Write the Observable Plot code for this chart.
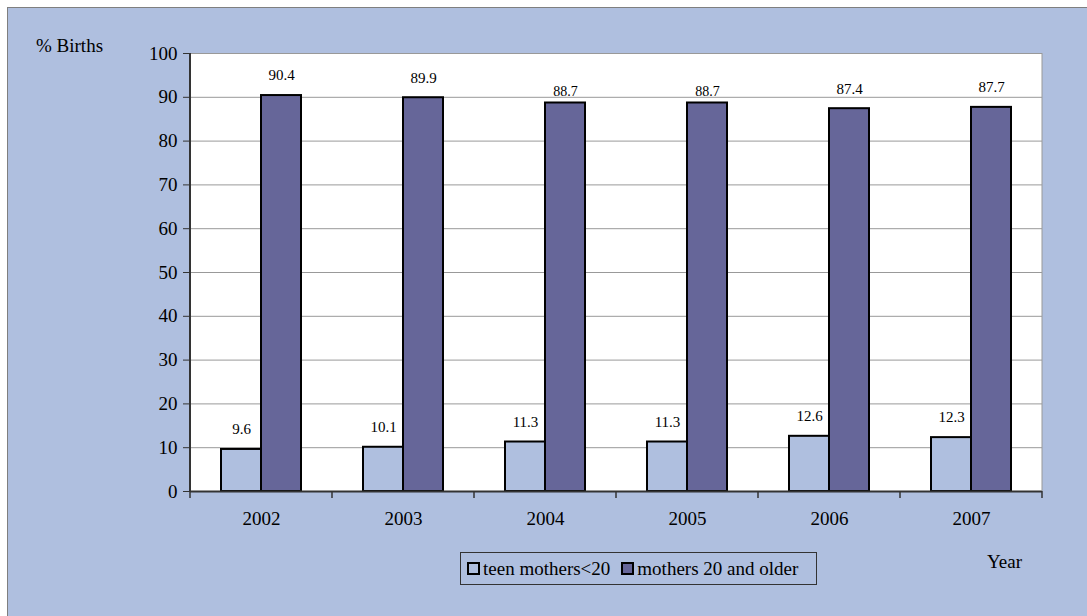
<!DOCTYPE html>
<html>
<head>
<meta charset="utf-8">
<script src="https://cdn.jsdelivr.net/npm/d3@7"></script>
<script src="https://cdn.jsdelivr.net/npm/@observablehq/plot@0.6"></script>
<style>
  html, body { margin: 0; padding: 0; background: #ffffff; }
  #wrap { position: relative; width: 1087px; height: 616px; overflow: hidden; font-family: "Liberation Serif", "Times New Roman", serif; }
  #bg { position: absolute; left: 7px; top: 7px; width: 1100px; height: 640px; background: #AFBFDF; border: 1px solid #7f7f7f; box-sizing: border-box; }
  #chart { position: absolute; left: 0; top: 0; }
  .lbl { position: absolute; font-size: 19px; color: #000; white-space: nowrap; }
  #legend { position: absolute; left: 460px; top: 552px; width: 357px; height: 33px; border: 1px solid #333; box-sizing: border-box; display: flex; align-items: center; font-size: 19px; padding-left: 6px; white-space: nowrap; }
  .sw { display: inline-block; width: 9px; height: 9px; border: 2px solid #000; margin-right: 3px; flex: none; }
  .item { display: flex; align-items: center; margin-right: 11px; white-space: nowrap; }
</style>
</head>
<body>
<div id="wrap">
  <div id="bg"></div>
  <div id="chart"></div>
  <div class="lbl" style="left:36px; top:35px;">% Births</div>
  <div class="lbl" style="left:987px; top:551px;">Year</div>
  <div id="legend"></div>
</div>
<script>
const years = ["2002", "2003", "2004", "2005", "2006", "2007"];
const series = ["teen mothers<20", "mothers 20 and older"];
const teen = [9.6, 10.1, 11.3, 11.3, 12.6, 12.3];
const older = [90.4, 89.9, 88.7, 88.7, 87.4, 87.7];
const yTicks = [0, 10, 20, 30, 40, 50, 60, 70, 80, 90, 100];
const colors = ["#AFBFDF", "#666699"];
// labels that sit closer to their bar in the original
const closeLabelYears = ["2004", "2005"];

const data = years.flatMap((yr, i) => [
  {year: yr, series: series[0], value: teen[i]},
  {year: yr, series: series[1], value: older[i]}
]);
const isClose = d => d.series === series[1] && closeLabelYears.includes(d.year);

const plot = Plot.plot({
  width: 1087,
  height: 616,
  marginLeft: 188,
  marginRight: 44,
  marginTop: 53,
  marginBottom: 125,
  style: {background: "transparent", fontFamily: "'Liberation Serif', 'Times New Roman', serif", color: "#000", overflow: "visible"},
  fx: {domain: years, padding: 0, label: null},
  x: {domain: series, paddingInner: 0, paddingOuter: 0.76, axis: null},
  y: {domain: [0, 100], label: null},
  color: {domain: series, range: colors},
  marks: [
    Plot.gridY(yTicks.filter(d => d > 0), {stroke: "#999", strokeOpacity: 1, strokeWidth: 1}),
    Plot.barY(data, {fx: "year", x: "series", y: "value", fill: "series", stroke: "black", strokeWidth: 2}),
    Plot.text(data.filter(d => !isClose(d)), {fx: "year", x: "series", y: "value", text: d => d.value.toFixed(1), dy: -20, fontSize: 15}),
    Plot.text(data.filter(isClose), {fx: "year", x: "series", y: "value", text: d => d.value.toFixed(1), dy: -11, fontSize: 14}),
    Plot.ruleY([0], {stroke: "#333", strokeWidth: 2}),
    Plot.axisY({ticks: yTicks, tickSize: 7, tickPadding: 6, label: null, fontSize: 19, stroke: "#333"}),
    Plot.axisFx({anchor: "bottom", tickSize: 0, tickPadding: 20, label: null, fontSize: 19})
  ]
});

document.getElementById("chart").appendChild(plot);

// plot-area background, axis line, right border and category boundary ticks from the scales
const fx = plot.scale("fx");
const y = plot.scale("y");
const svg = d3.select(plot);
const y0 = y.apply(0), y100 = y.apply(100);
const edges = years.map(yr => fx.apply(yr));
edges.push(fx.apply(years[years.length - 1]) + fx.bandwidth);
const xL = edges[0], xR = edges[edges.length - 1];
svg.insert("rect", ":first-child")
  .attr("x", xL).attr("y", y100).attr("width", xR - xL).attr("height", y0 - y100).attr("fill", "white");
const g = svg.append("g");
g.append("line").attr("x1", xR).attr("x2", xR)
  .attr("y1", y100).attr("y2", y0).attr("stroke", "#999").attr("stroke-width", 1);
g.append("line").attr("x1", xL).attr("x2", xL)
  .attr("y1", y100).attr("y2", y0 + 1).attr("stroke", "#333").attr("stroke-width", 2);
g.selectAll("line.tk").data(edges).join("line").attr("class", "tk")
  .attr("x1", d => d).attr("x2", d => d).attr("y1", y0).attr("y2", y0 + 7)
  .attr("stroke", "#333").attr("stroke-width", 1.5);

// legend
const legend = d3.select("#legend");
series.forEach((s, i) => {
  const it = legend.append("div").attr("class", "item");
  it.append("span").attr("class", "sw").style("background", colors[i]);
  it.append("span").text(s);
});
</script>
</body>
</html>
